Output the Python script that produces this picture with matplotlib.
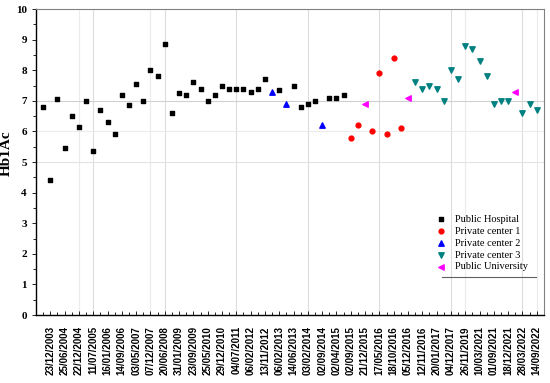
import numpy as np
import matplotlib.pyplot as plt
from matplotlib.ticker import MultipleLocator

# sample index (1..70) and HbA1c values per centre
hosp_x = list(range(1, 33)) + [34, 36, 37, 38, 39, 41, 42, 43]
hosp_y = [6.8, 4.4, 7.05, 5.45, 6.5, 6.15, 7.0, 5.35, 6.7, 6.3, 5.9, 7.2, 6.85, 7.55, 7.0, 8.0,
          7.8, 8.85, 6.6, 7.25, 7.2, 7.6, 7.4, 7.0, 7.2, 7.5, 7.4, 7.4, 7.4, 7.3, 7.4, 7.7,
          7.35, 7.5, 6.8, 6.9, 7.0, 7.1, 7.1, 7.2]
pc1_x = [44, 45, 47, 48, 49, 50, 51]
pc1_y = [5.8, 6.2, 6.0, 7.9, 5.9, 8.4, 6.1]
pc2_x = [33, 35, 40]
pc2_y = [7.3, 6.9, 6.2]
pc3_x = list(range(53, 67)) + [68, 69, 70]
pc3_y = [7.6, 7.4, 7.5, 7.4, 7.0, 8.0, 7.7, 8.8, 8.7, 8.3, 7.8, 6.9, 7.0, 7.0,
         6.6, 6.9, 6.7]
pu_x = [46, 52, 67]
pu_y = [6.9, 7.1, 7.3]

dates = ['23/12/2003', '25/06/2004', '22/12/2004', '11/07/2005', '16/01/2006', '14/09/2006',
         '03/05/2007', '07/12/2007', '20/06/2008', '31/01/2009', '23/09/2009', '25/05/2010',
         '29/12/2010', '04/07/2011', '06/02/2012', '13/11/2012', '06/02/2013', '14/06/2013',
         '03/02/2014', '02/09/2014', '02/04/2015', '02/09/2015', '21/12/2015', '17/05/2016',
         '18/10/2016', '05/12/2016', '12/11/2016', '20/01/2017', '04/12/2017', '26/11/2019',
         '10/03/2021', '01/09/2021', '18/12/2021', '28/03/2022', '14/09/2022']

serif = 'Liberation Serif'
fig = plt.figure(figsize=(5.5, 3.83), dpi=100)
ax = fig.add_axes([0.0655, 0.1775, 0.9235, 0.799])

# grid
for gx in [6, 16, 60, 70]:
    ax.axvline(gx, color='#ebebeb', lw=0.8, zorder=0)
for gx in [8, 18, 28, 38, 48, 58, 68]:
    ax.axvline(gx, color='#dcdcdc', lw=0.8, zorder=0)
for gy, c in [(5, '#e3e3e3'), (6, '#ececec'), (7, '#d0d0d0')]:
    ax.axhline(gy, color=c, lw=0.8, zorder=0)

ms = 12
ax.scatter(hosp_x, hosp_y, marker='s', s=ms, color='black', label='Public Hospital', zorder=3)
ax.scatter(pc1_x, pc1_y, marker='o', s=ms, color='red', label='Private center 1', zorder=3)
ax.scatter(pc2_x, pc2_y, marker='^', s=ms + 3, color='blue', label='Private center 2', zorder=3)
ax.scatter(pc3_x, pc3_y, marker='v', s=ms + 3, color='#008080', label='Private center 3', zorder=3)
ax.scatter(pu_x, pu_y, marker='<', s=ms + 3, color='magenta', label='Public University', zorder=3)

ax.set_xlim(0, 71)
ax.set_ylim(0, 10)

ax.set_xticks(range(2, 71, 2))
ax.set_xticklabels(dates, rotation=90, fontsize=7, fontweight='bold', family='Liberation Sans')
ax.set_xticks(range(1, 71, 2), minor=True)
ax.tick_params(axis='x', which='major', direction='in', length=3, width=0.6, pad=8)
ax.tick_params(axis='x', which='minor', direction='in', length=2, width=0.6)

ax.yaxis.set_major_locator(MultipleLocator(1))
ax.yaxis.set_minor_locator(MultipleLocator(0.5))
ax.tick_params(axis='y', which='major', direction='out', length=3, width=0.6, labelsize=8)
ax.tick_params(axis='y', which='minor', direction='out', length=2, width=0.6)
for t in ax.get_yticklabels():
    t.set_family(serif)
    t.set_fontweight('bold')

ax.set_ylabel('Hb1Ac', family=serif, fontweight='bold', fontsize=11)
ax.yaxis.set_label_coords(-0.045, 0.53)

for s in ['top', 'right']:
    ax.spines[s].set_color('#808080')
for s in ['left', 'bottom']:
    ax.spines[s].set_linewidth(1.0)

leg = ax.legend(loc='lower right', bbox_to_anchor=(0.985, 0.115), frameon=False,
                prop={'family': serif, 'size': 7.5}, handletextpad=0.3,
                labelspacing=0.25, borderpad=0.3, scatterpoints=1)
ax.plot([0.80, 0.985], [0.124, 0.124], transform=ax.transAxes, color='#606060', lw=0.8)

fig.savefig('out.png', dpi=100)
